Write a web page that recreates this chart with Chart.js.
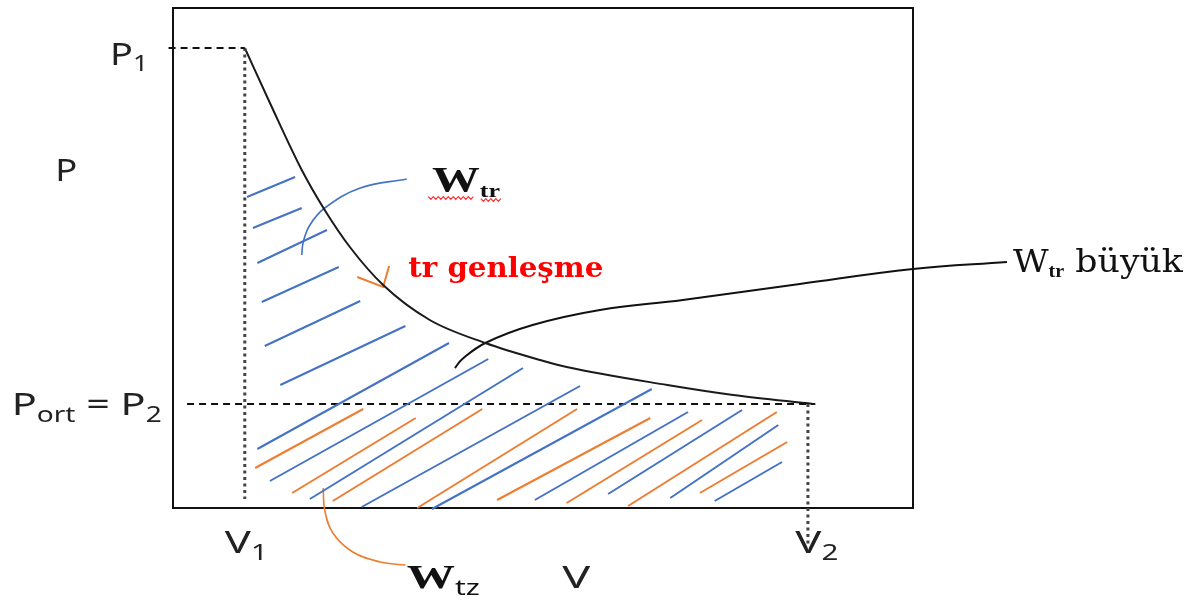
<!DOCTYPE html>
<html>
<head>
<meta charset="utf-8">
<script src="https://cdn.jsdelivr.net/npm/chart.js@4.4.1/dist/chart.umd.min.js"></script>
<style>
  html, body { margin: 0; padding: 0; background: #fff; }
  #wrap { width: 1197px; height: 607px; }
</style>
</head>
<body>
<div id="wrap"><canvas id="pv" width="1197" height="607"></canvas></div>
<script>
// P-V sketch, everything placed in V / P units (box is 0..10 on both axes)
const V1 = 0.97, V2 = 8.58;
const P1 = 9.2, P2 = 2.08;

// expansion curve
const curveV = [0.97, 1.31, 1.74, 2.05, 2.39, 2.84, 3.47, 4.22, 4.96, 5.32, 6.68, 7.57, 8.65];
const curveP = [9.20, 8.10, 6.76, 5.96, 5.22, 4.46, 3.76, 3.30, 2.96, 2.82, 2.46, 2.26, 2.08];

// hatching strokes [v0, p0, v1, p1]
const blueHatch = [
  [1.00, 6.22, 1.65, 6.62],
  [1.08, 5.60, 1.74, 6.00],
  [1.14, 4.90, 2.08, 5.56],
  [1.20, 4.12, 2.24, 4.82],
  [1.24, 3.24, 2.53, 4.14],
  [1.45, 2.46, 3.14, 3.64],
  [1.14, 1.18, 3.73, 3.30],
  [1.31, 0.54, 4.26, 2.98],
  [1.85, 0.18, 4.73, 2.80],
  [2.55, 0.02, 5.50, 2.44],
  [3.50, -0.02, 6.47, 2.38],
  [4.89, 0.16, 6.96, 1.92],
  [5.88, 0.28, 7.69, 1.96],
  [6.72, 0.20, 8.18, 1.66],
  [7.32, 0.14, 8.23, 0.92]
];
const orangeHatch = [
  [1.11, 0.80, 2.57, 1.98],
  [1.61, 0.30, 3.28, 1.80],
  [2.16, 0.14, 4.18, 1.98],
  [3.30, 0.00, 5.46, 1.98],
  [4.38, 0.16, 6.45, 1.80],
  [5.32, 0.10, 7.15, 1.76],
  [6.15, 0.04, 8.16, 1.92],
  [7.12, 0.30, 8.30, 1.32]
];

// pointer lines (the long one runs from the label back into the box)
const wtrArcV = [3.16, 2.53, 2.05, 1.85, 1.76, 1.74];
const wtrArcP = [6.58, 6.40, 6.00, 5.66, 5.32, 5.06];
const tickV = [2.49, 2.84, 2.92];
const tickP = [4.62, 4.42, 4.84];
const buyukV = [11.27, 10.0, 8.47, 6.89, 5.77, 4.86, 4.22, 3.91, 3.81];
const buyukP = [4.92, 4.78, 4.48, 4.16, 3.96, 3.66, 3.30, 2.98, 2.80];
const wtzArcV = [2.03, 2.05, 2.16, 2.43, 2.80, 3.14];
const wtzArcP = [0.40, -0.04, -0.50, -0.88, -1.08, -1.14];

const BLUE = "#4472C4";
const ORANGE = "#ED7D31";
const SANS = "'Noto Sans', 'Liberation Sans', sans-serif";
const SERIF = "'Liberation Serif', 'DejaVu Serif', serif";
const DSERIF = "'DejaVu Serif', 'Liberation Serif', serif";

// text notes: left edge + baseline in V/P units, w = width in px to fit
const notes = [
  { v: -0.85, p: 8.86, w: 38, color: "#222", main: "30px " + SANS, sub: "21px " + SANS, drop: 6,
    runs: [["P", 0], ["1", 1]] },
  { v: -1.59, p: 6.54, w: 22, color: "#222", main: "31px " + SANS, runs: [["P", 0]] },
  { v: -2.18, p: 1.86, w: 150, color: "#222", main: "31px " + SANS, sub: "21px " + SANS, drop: 7,
    runs: [["P", 0], ["ort", 1], [" = P", 0], ["2", 1]] },
  { v: 0.70, p: -0.90, w: 43, color: "#222", main: "31px " + SANS, sub: "21px " + SANS, drop: 7,
    runs: [["V", 0], ["1", 1]] },
  { v: 8.41, p: -0.90, w: 43, color: "#222", main: "31px " + SANS, sub: "21px " + SANS, drop: 7,
    runs: [["V", 0], ["2", 1]] },
  { v: 5.26, p: -1.60, w: 28, color: "#222", main: "31px " + SANS, runs: [["V", 0]] },
  { v: 3.16, p: -1.60, w: 73, color: "#111", main: "bold 34px " + SERIF, sub: "21px " + SANS, drop: 7,
    runs: [["W", 0], ["tz", 1]] },
  { v: 3.50, p: 6.32, w: 68, color: "#111", main: "bold 35px " + SERIF, sub: "bold 19px " + SERIF, drop: 5,
    runs: [["W", 0], ["tr", 1]] },
  { v: 3.18, p: 4.62, w: 195, color: "#ff0000", main: "bold 27px " + DSERIF, runs: [["tr genleşme", 0]] },
  { v: 11.35, p: 4.72, w: 170, color: "#111", main: "31px " + DSERIF, sub: "bold 18px " + SERIF, drop: 5,
    runs: [["W", 0], ["tr", 1], [" büyük", 0]] }
];
// spell-check squiggles under W_tr
const squiggles = [
  { v0: 3.45, v1: 4.06, p: 6.20 },
  { v0: 4.16, v1: 4.46, p: 6.16 }
];

const zip = (a, b) => a.map((v, i) => ({ x: v, y: b[i] }));

function line(pts, color, width, extra) {
  return Object.assign({
    data: pts, showLine: true, borderColor: color, borderWidth: width,
    pointRadius: 0, fill: false, clip: false
  }, extra || {});
}

const datasets = [];
blueHatch.forEach(h => datasets.push(line([{ x: h[0], y: h[1] }, { x: h[2], y: h[3] }], BLUE, 2)));
orangeHatch.forEach(h => datasets.push(line([{ x: h[0], y: h[1] }, { x: h[2], y: h[3] }], ORANGE, 2)));

// guide lines
datasets.push(line([{ x: -0.06, y: P1 }, { x: V1, y: P1 }], "#111", 2, { borderDash: [7, 5] }));
datasets.push(line([{ x: 0.19, y: P2 }, { x: 8.68, y: P2 }], "#111", 2, { borderDash: [7, 5] }));
datasets.push(line([{ x: V1, y: P1 }, { x: V1, y: 0.18 }], "#444", 3, { borderDash: [3, 3.5] }));
datasets.push(line([{ x: V2, y: P2 }, { x: V2, y: -0.74 }], "#444", 3, { borderDash: [3, 3.5] }));

// the curve
datasets.push(line(zip(curveV, curveP), "#1a1a1a", 2, { cubicInterpolationMode: "monotone" }));

// pointers
datasets.push(line(zip(wtrArcV, wtrArcP), BLUE, 1.6, { tension: 0.4 }));
datasets.push(line(zip(tickV, tickP), ORANGE, 2, { tension: 0 }));
datasets.push(line(zip(buyukV, buyukP), "#111", 2, { tension: 0.4 }));
datasets.push(line(zip(wtzArcV, wtzArcP), ORANGE, 1.6, { tension: 0.4 }));

function drawNote(ctx, n, x, y) {
  let total = 0;
  n.runs.forEach(r => {
    ctx.font = r[1] ? n.sub : n.main;
    total += ctx.measureText(r[0]).width;
  });
  const sx = n.w / total;
  ctx.save();
  ctx.translate(x, y);
  ctx.scale(sx, 1);
  ctx.fillStyle = n.color;
  ctx.textBaseline = "alphabetic";
  let cx = 0;
  n.runs.forEach(r => {
    ctx.font = r[1] ? n.sub : n.main;
    ctx.fillText(r[0], cx, r[1] ? n.drop : 0);
    cx += ctx.measureText(r[0]).width;
  });
  ctx.restore();
}

const notesPlugin = {
  id: "notes",
  afterDatasetsDraw(chart) {
    const { ctx, scales: { x, y } } = chart;
    notes.forEach(n => drawNote(ctx, n, x.getPixelForValue(n.v), y.getPixelForValue(n.p)));

    // red wavy underlines
    ctx.save();
    ctx.strokeStyle = "#ff3030";
    ctx.lineWidth = 1.2;
    squiggles.forEach(s => {
      const x0 = x.getPixelForValue(s.v0), x1 = x.getPixelForValue(s.v1);
      const yy = y.getPixelForValue(s.p);
      ctx.beginPath();
      let up = true;
      for (let px = x0; px <= x1; px += 2.5) {
        const py = yy + (up ? -1.4 : 1.4);
        if (px === x0) ctx.moveTo(px, py); else ctx.lineTo(px, py);
        up = !up;
      }
      ctx.stroke();
    });
    ctx.restore();
  }
};

const edge = (pos) => ({
  type: "linear", position: pos, min: 0, max: 10,
  ticks: { display: false },
  grid: { display: false, drawTicks: false },
  border: { display: true, color: "#111", width: 2 }
});

new Chart(document.getElementById("pv"), {
  type: "scatter",
  data: { datasets: datasets },
  options: {
    responsive: false,
    animation: false,
    layout: { padding: { left: 173, right: 284, top: 8, bottom: 99 } },
    plugins: { legend: { display: false }, tooltip: { enabled: false } },
    scales: {
      x: edge("bottom"),
      xTop: Object.assign(edge("top"), { axis: "x" }),
      y: edge("left"),
      yRight: Object.assign(edge("right"), { axis: "y" })
    }
  },
  plugins: [notesPlugin]
});
</script>
</body>
</html>
